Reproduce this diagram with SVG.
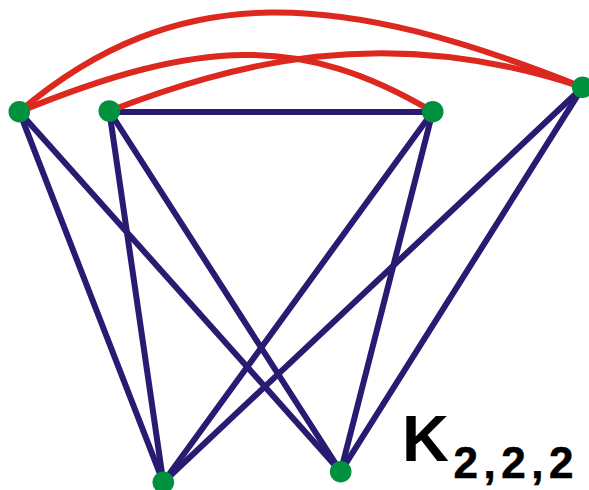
<svg xmlns="http://www.w3.org/2000/svg" width="589" height="490" viewBox="0 0 589 490">
<style>
.b{stroke:#291b72;stroke-width:6;fill:none;stroke-linecap:round}
.r{stroke:#dc281e;stroke-width:6;fill:none;stroke-linecap:round}
.n{fill:#00913f}
.t{font-family:"Liberation Sans",Arial,sans-serif;font-weight:bold;fill:#000}
</style>
<rect width="589" height="490" fill="#fff"/>
<g id="connectors">
<line class="b" x1="109.3" y1="112" x2="432.7" y2="112"/>
<line class="b" x1="19.3" y1="111.7" x2="163.3" y2="482.3"/>
<line class="b" x1="19.3" y1="111.7" x2="340.7" y2="471.7"/>
<line class="b" x1="109.3" y1="111" x2="163.3" y2="482.3"/>
<line class="b" x1="109.3" y1="111" x2="340.7" y2="471.7"/>
<line class="b" x1="432.7" y1="111.7" x2="163.3" y2="482.3"/>
<line class="b" x1="432.7" y1="111.7" x2="340.7" y2="471.7"/>
<line class="b" x1="582.7" y1="87.3" x2="163.3" y2="482.3"/>
<line class="b" x1="582.7" y1="87.3" x2="340.7" y2="471.7"/>
<path class="r" d="M19.3,111.7 C179,-24 343,-9 582.7,87.3"/>
<path class="r" d="M19.3,111.7 C199,38.2 302,34 432.7,111.7"/>
<path class="r" d="M109.3,111 C229,65.4 383,20 582.7,87.3"/>
</g>
<g id="nA"><circle class="n" cx="19.3" cy="111.7" r="10.8"/></g>
<g id="nB"><circle class="n" cx="109.3" cy="111" r="10.8"/></g>
<g id="nC"><circle class="n" cx="432.7" cy="111.7" r="10.8"/></g>
<g id="nD"><circle class="n" cx="582.7" cy="87.3" r="10.8"/></g>
<g id="nE"><circle class="n" cx="163.3" cy="482.3" r="10.8"/></g>
<g id="nF"><circle class="n" cx="340.7" cy="471.7" r="10.8"/></g>
<g id="label">
<text class="t" x="402" y="461" font-size="65">K</text>
<text class="t" x="453.5" y="478.3" font-size="44" font-weight="normal" stroke="#000" stroke-width="0.6" letter-spacing="5.5">2,2,2</text>
</g>
</svg>
